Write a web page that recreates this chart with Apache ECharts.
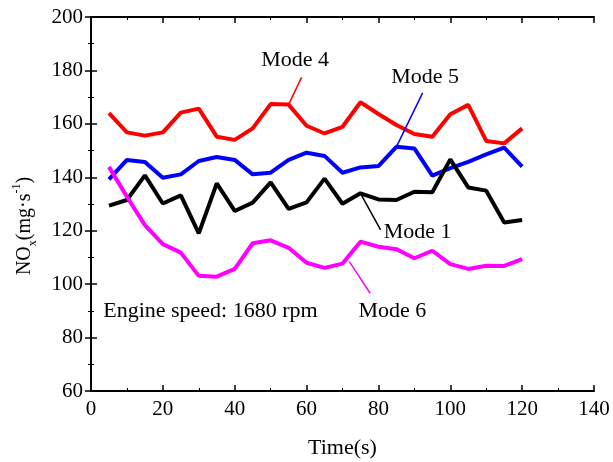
<!DOCTYPE html>
<html>
<head>
<meta charset="utf-8">
<script src="https://cdn.jsdelivr.net/npm/echarts@6/dist/echarts.min.js"></script>
<style>
  html, body { margin: 0; padding: 0; background: #fff; }
  #container { width: 613px; height: 462px; }
</style>
</head>
<body>
<div id="container"></div>
<script>
var dom = document.getElementById("container");
var myChart = echarts.init(dom);

// time axis (s)
var time = [5, 10, 15, 20, 25, 30, 35, 40, 45, 50, 55, 60, 65, 70, 75, 80, 85, 90, 95, 100, 105, 110, 115, 120];

// NOx values
var mode4 = [164.0, 156.8, 155.6, 156.8, 164.2, 165.7, 155.2, 154.0, 158.3, 167.4, 167.2, 159.3, 156.4, 158.9, 168.1, 163.7, 159.6, 156.2, 155.2, 163.6, 167.1, 153.6, 152.7, 158.3];
var mode5 = [139.2, 146.5, 145.7, 139.8, 141.1, 146.1, 147.6, 146.5, 141.1, 141.7, 146.5, 149.2, 148.0, 141.7, 143.7, 144.2, 151.4, 150.8, 140.6, 143.4, 145.8, 148.6, 151.1, 144.0];
var mode1 = [129.4, 131.5, 140.7, 130.2, 133.2, 119.0, 137.7, 127.4, 130.5, 138.1, 128.2, 130.6, 139.5, 130.1, 134.0, 131.7, 131.5, 134.6, 134.4, 146.7, 136.2, 135.0, 123.1, 124.0];
var mode6 = [143.9, 132.7, 122.1, 115.0, 111.8, 103.1, 102.8, 105.7, 115.3, 116.4, 113.6, 108.0, 106.1, 107.7, 115.9, 114.0, 113.1, 109.7, 112.5, 107.5, 105.7, 106.9, 106.8, 109.4];

var font = 'Liberation Serif';

function pairs(ys) {
    return time.map(function (t, i) { return [t, ys[i]]; });
}

// label text position, leader line from -> to (data coords)
function makeSeries(name, ys, color, labelAt, leadFrom, leadTo) {
    return {
        name: name,
        type: 'line',
        data: pairs(ys),
        symbol: 'none',
        lineStyle: { color: color, width: 4 },
        itemStyle: { color: color },
        animation: false,
        markLine: {
            silent: true,
            symbol: 'none',
            label: { show: false },
            lineStyle: { color: color, width: 1.5, type: 'solid' },
            data: [[{ coord: leadFrom }, { coord: leadTo }]]
        },
        markPoint: {
            silent: true,
            symbol: 'rect',
            symbolSize: 0,
            label: {
                show: true,
                formatter: name,
                color: '#000',
                fontFamily: font,
                fontSize: 22,
                position: 'inside'
            },
            data: [{ coord: labelAt }]
        }
    };
}

var axisCommon = {
    axisLine: { show: true, lineStyle: { color: '#000', width: 2 } },
    axisTick: { show: true, inside: true, length: 6, lineStyle: { color: '#000', width: 1.5 } },
    minorTick: { show: true, splitNumber: 2, length: 3, lineStyle: { color: '#000', width: 1 } },
    splitLine: { show: false }
};

var option = {
    backgroundColor: '#fff',
    grid: { left: 91, right: 19, top: 17, bottom: 71, outerBoundsMode: 'none' },
    xAxis: [
        Object.assign({
            type: 'value', min: 0, max: 140, interval: 20,
            name: 'Time(s)', nameLocation: 'middle', nameGap: 46,
            nameTextStyle: { fontFamily: font, fontSize: 22, color: '#000' },
            axisLabel: { fontFamily: font, fontSize: 21, color: '#000', margin: 8 }
        }, axisCommon),
        Object.assign({
            type: 'value', min: 0, max: 140, interval: 20, position: 'top',
            axisLabel: { show: false }
        }, axisCommon)
    ],
    yAxis: [
        Object.assign({
            type: 'value', min: 60, max: 200, interval: 20,
            name: '{a|NO}{b|x}{a|(mg·s}{c|-1}{a|)}', nameLocation: 'middle', nameGap: 52,
            nameTextStyle: {
                fontFamily: font, fontSize: 20, color: '#000',
                padding: [0, 44, 0, 0],
                rich: {
                    a: { fontFamily: font, fontSize: 20, color: '#000', lineHeight: 28, verticalAlign: 'middle' },
                    b: { fontFamily: font, fontSize: 12, color: '#000', lineHeight: 28, verticalAlign: 'bottom' },
                    c: { fontFamily: font, fontSize: 12, color: '#000', lineHeight: 28, verticalAlign: 'top' }
                }
            },
            axisLabel: { fontFamily: font, fontSize: 21, color: '#000', margin: 8 }
        }, axisCommon),
        Object.assign({
            type: 'value', min: 60, max: 200, interval: 20, position: 'right',
            axisLabel: { show: false }
        }, axisCommon)
    ],
    series: [
        makeSeries('Mode 4', mode4, '#ff0000', [56.8, 183.9], [58.6, 177.4], [55, 167.2]),
        makeSeries('Mode 5', mode5, '#0000ff', [93.0, 177.5], [92.3, 171.6], [85, 151.4]),
        makeSeries('Mode 1', mode1, '#000000', [90.9, 119.6], [75, 134.0], [80.6, 120.3]),
        makeSeries('Mode 6', mode6, '#ff00ff', [83.9, 89.7], [71.9, 108.4], [77.7, 96.6]),
        {
            name: 'note',
            type: 'line',
            data: [],
            markPoint: {
                silent: true,
                symbol: 'rect',
                symbolSize: 0,
                label: {
                    show: true,
                    formatter: 'Engine speed: 1680 rpm',
                    color: '#000',
                    fontFamily: font,
                    fontSize: 22,
                    position: 'right',
                    distance: 0
                },
                data: [{ coord: [3.4, 90.0] }]
            }
        }
    ]
};

myChart.setOption(option);
</script>
</body>
</html>
